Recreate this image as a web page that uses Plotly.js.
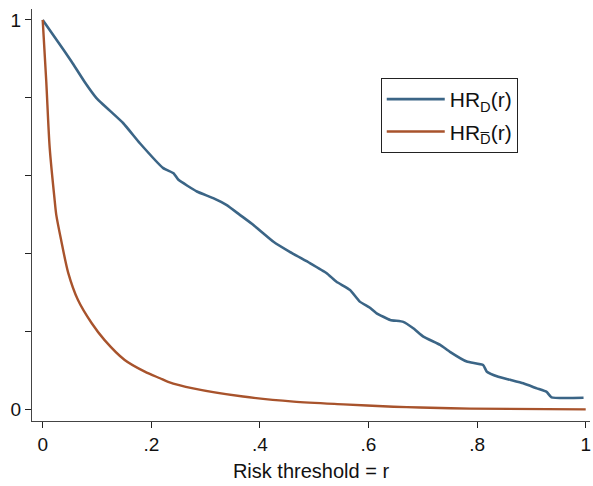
<!DOCTYPE html>
<html>
<head>
<meta charset="utf-8">
<script src="https://cdn.plot.ly/plotly-3.0.1.min.js"></script>
<style>html,body{margin:0;padding:0;background:#fff;}#chart{width:593px;height:486px;}</style>
</head>
<body>
<div id="chart"></div>
<script>
// HR_D(r)
var rD = [0, 0.028, 0.053, 0.077, 0.099, 0.148, 0.179, 0.222, 0.241, 0.250, 0.284, 0.314, 0.339, 0.363, 0.388, 0.425, 0.455, 0.492, 0.523, 0.541, 0.566, 0.584, 0.602, 0.615, 0.640, 0.664, 0.683, 0.701, 0.732, 0.750, 0.781, 0.811, 0.818, 0.839, 0.861, 0.885, 0.910, 0.928, 0.937, 0.996];
var hrD = [1, 0.944, 0.893, 0.841, 0.799, 0.735, 0.683, 0.619, 0.606, 0.589, 0.559, 0.542, 0.524, 0.499, 0.473, 0.430, 0.404, 0.375, 0.349, 0.327, 0.306, 0.276, 0.261, 0.246, 0.229, 0.224, 0.207, 0.186, 0.165, 0.147, 0.122, 0.113, 0.096, 0.083, 0.075, 0.066, 0.053, 0.044, 0.030, 0.029];
// HR_Dbar(r)
var rDbar = [0, 0.0066, 0.0129, 0.022, 0.025, 0.034, 0.047, 0.065, 0.090, 0.114, 0.151, 0.188, 0.216, 0.231, 0.277, 0.369, 0.462, 0.554, 0.646, 0.695, 0.787, 1.0];
var hrDbar = [1, 0.841, 0.671, 0.537, 0.499, 0.434, 0.350, 0.280, 0.221, 0.177, 0.126, 0.096, 0.079, 0.070, 0.053, 0.032, 0.019, 0.012, 0.006, 0.004, 0.001, -0.001];

var xTickVals = [0, 0.2, 0.4, 0.6, 0.8, 1];
var xTickText = ['0', '.2', '.4', '.6', '.8', '1'];
var yTickVals = [0, 0.2, 0.4, 0.6, 0.8, 1];
var yTickText = ['0', '', '', '', '', '1'];

var FONT = '"Liberation Sans", Arial, Helvetica, sans-serif';

var traces = [
  {x: rD, y: hrD, type: 'scatter', mode: 'lines', name: 'HR<sub>D</sub>(r)',
   legendgroup: 'a', line: {color: '#3b6586', width: 2.6, shape: 'spline', smoothing: 0.4}},
  {x: rDbar, y: hrDbar, type: 'scatter', mode: 'lines', name: 'HR<sub>D\u0305</sub>(r)',
   legendgroup: 'b', line: {color: '#a8532c', width: 2.4, shape: 'spline', smoothing: 0.8}}
];

var layout = {
  width: 593, height: 486,
  margin: {l: 32, r: 3, t: 9, b: 65},
  paper_bgcolor: '#fff', plot_bgcolor: '#fff',
  font: {family: FONT, color: '#111', size: 20},
  showlegend: true,
  legend: {x: 0.625, y: 0.8325, xanchor: 'left', yanchor: 'top',
    bordercolor: '#222', borderwidth: 1, bgcolor: '#fff',
    font: {size: 21, family: FONT, color: '#111'},
    itemwidth: 58,
    traceorder: 'grouped', tracegroupgap: 2},
  xaxis: {range: [-0.0197, 1.0079], tickvals: xTickVals, ticktext: xTickText,
    ticks: 'outside', ticklen: 6, tickwidth: 1, tickcolor: '#222',
    showline: true, linecolor: '#444', linewidth: 1, showgrid: false, zeroline: false,
    tickfont: {size: 19, family: FONT, color: '#111'},
    title: {text: 'Risk threshold = r', font: {size: 20, family: FONT, color: '#111'}, standoff: 10}},
  yaxis: {range: [-0.0308, 1.028], tickvals: yTickVals, ticktext: yTickText,
    ticks: 'outside', ticklen: 6, tickwidth: 1, tickcolor: '#222',
    showline: true, linecolor: '#444', linewidth: 1, showgrid: false, zeroline: false,
    tickfont: {size: 19, family: FONT, color: '#111'}}
};

Plotly.newPlot('chart', traces, layout, {displayModeBar: false, staticPlot: true});
</script>
</body>
</html>
